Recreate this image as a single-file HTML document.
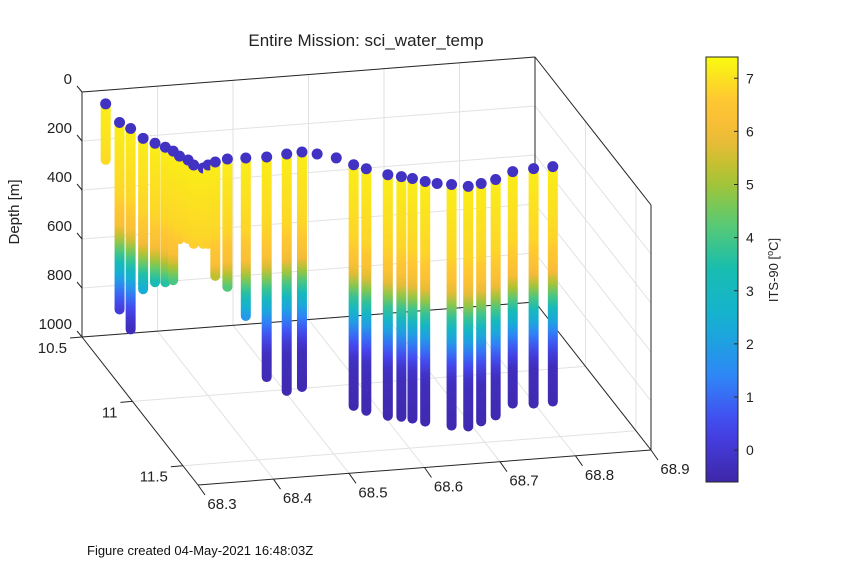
<!DOCTYPE html>
<html><head><meta charset="utf-8">
<style>
body{margin:0;background:#fff;}
svg{display:block;font-family:"Liberation Sans",sans-serif;}
</style></head>
<body>
<svg id="chart" width="851" height="567" viewBox="0 0 851 567" xmlns="http://www.w3.org/2000/svg">
<defs id="defs"></defs>
<rect width="851" height="567" fill="#fff"/>
<text x="366" y="46" font-size="17" text-anchor="middle" fill="#222">Entire Mission: sci_water_temp</text>
<text transform="translate(19,212) rotate(-90)" font-size="15" text-anchor="middle" fill="#222">Depth [m]</text>
<text x="87" y="555" font-size="13" fill="#111">Figure created 04-May-2021 16:48:03Z</text>
<g id="grid"></g>
<g id="box"></g>
<g id="ticks"></g>
<g id="marks"></g>
<g id="cbar"></g>
<text transform="translate(778,270) rotate(-90)" font-size="13" text-anchor="middle" fill="#222">ITS-90 [<tspan baseline-shift="super" font-size="9">o</tspan>C]</text>
</svg>
<script>
// ---- data ----
const lons=[68.318,68.317,68.325,68.331,68.341,68.350,68.356,68.359,68.366,68.368,68.377,68.386,68.398,68.416,68.440,68.467,68.495,68.516,68.533,68.553,68.568,68.580,68.601,68.616,68.628,68.641,68.654,68.671,68.690,68.709,68.731,68.760,68.789,68.815];
const lats=[10.600,10.745,10.795,10.874,10.917,10.952,10.985,11.025,11.058,11.098,11.125,11.106,11.088,11.073,11.076,11.081,11.070,11.064,11.087,11.127,11.187,11.223,11.279,11.301,11.321,11.350,11.371,11.387,11.410,11.396,11.375,11.327,11.317,11.313];
const maxDepths=[229,763,820,616,567,551,527,339,322,322,310,322,465,522,645,898,967,959,0,0,984,988,984,980,980,980,0,984,980,971,963,947,959,959];
const profDepth=[0,300,420,490,570,680,800,1000];
const profTemp=[7.2,6.8,6.2,4.8,3.2,1.2,-0.3,-0.5];
const surfaceTemp=-0.2;
const lonTicks=[68.3,68.4,68.5,68.6,68.7,68.8,68.9];
const latTicks=[10.5,11,11.5];
const depthTicks=[0,200,400,600,800,1000];
const cbTicks=[0,1,2,3,4,5,6,7];
// ---- axes ----
const LON0=68.3,LON1=68.9,LAT0=10.5,LAT1=11.65,D1=1000;
const O=[82,92],VX=[453,-35],VY=[116,148],VZ=[0,245];
function P(lon,lat,d){const u=(lon-LON0)/(LON1-LON0),v=(lat-LAT0)/(LAT1-LAT0),w=d/D1;
 return [O[0]+u*VX[0]+v*VY[0]+w*VZ[0],O[1]+u*VX[1]+v*VY[1]+w*VZ[1]];}
const CB={x:706,w:32,top:57,bot:482,min:-0.6,max:7.4};
function cbY(t){return CB.bot-(t-CB.min)/(CB.max-CB.min)*(CB.bot-CB.top);}
const parula=[[0,[62,38,168]],[0.13,[70,68,238]],[0.25,[46,135,247]],[0.38,[21,177,211]],[0.5,[24,189,176]],[0.62,[97,203,107]],[0.72,[178,194,45]],[0.82,[246,186,57]],[0.9,[254,200,50]],[1,[249,251,14]]];
function cmap(t){let f=(t-CB.min)/(CB.max-CB.min);f=Math.max(0,Math.min(1,f));
 for(let i=1;i<parula.length;i++){if(f<=parula[i][0]){const a=parula[i-1],b=parula[i],k=(f-a[0])/(b[0]-a[0]);
  return 'rgb('+a[1].map((c,j)=>Math.round(c+(b[1][j]-c)*k)).join(',')+')';}}
 return 'rgb(249,251,14)';}
function tempAt(d){for(let i=1;i<profDepth.length;i++){if(d<=profDepth[i]){const k=(d-profDepth[i-1])/(profDepth[i]-profDepth[i-1]);return profTemp[i-1]+k*(profTemp[i]-profTemp[i-1]);}}return profTemp[profTemp.length-1];}
const NS='http://www.w3.org/2000/svg';
function el(tag,attrs,parent){const e=document.createElementNS(NS,tag);for(const k in attrs)e.setAttribute(k,attrs[k]);parent.appendChild(e);return e;}
function line(a,b,col,w,parent){return el('line',{x1:a[0],y1:a[1],x2:b[0],y2:b[1],stroke:col,'stroke-width':w},parent);}
const grid=document.getElementById('grid'),box=document.getElementById('box'),ticks=document.getElementById('ticks'),marks=document.getElementById('marks'),cbar=document.getElementById('cbar'),defs=document.getElementById('defs');
const gc='#e2e2e2';
lonTicks.forEach(l=>{
 let g=line(P(l,LAT0,0),P(l,LAT0,D1),gc,1,grid);
 
 
 g=line(P(l,LAT0,D1),P(l,LAT1,D1),gc,1,grid);
 
 
});
depthTicks.forEach(d=>{
 let g=line(P(LON0,LAT0,d),P(LON1,LAT0,d),gc,1,grid);
 
 
 g=line(P(LON1,LAT0,d),P(LON1,LAT1,d),gc,1,grid);
 
 
});
latTicks.forEach(t=>{
 let g=line(P(LON0,t,D1),P(LON1,t,D1),gc,1,grid);
 
 
 g=line(P(LON1,t,0),P(LON1,t,D1),gc,1,grid);
 
 
});
const edges=[[[LON0,LAT0,0],[LON1,LAT0,0]],[[LON0,LAT0,0],[LON0,LAT0,D1]],[[LON1,LAT0,0],[LON1,LAT0,D1]],[[LON0,LAT0,D1],[LON1,LAT0,D1]],[[LON0,LAT1,D1],[LON1,LAT1,D1]],[[LON0,LAT0,D1],[LON0,LAT1,D1]],[[LON1,LAT0,D1],[LON1,LAT1,D1]],[[LON1,LAT0,0],[LON1,LAT1,0]],[[LON1,LAT1,0],[LON1,LAT1,D1]]];
edges.forEach(e=>{const g=line(P(...e[0]),P(...e[1]),'#262626',1,box);
 
 });
depthTicks.forEach(d=>{const p=P(LON0,LAT0,d);line(p,[p[0]-5,p[1]-6],'#262626',1,ticks);
 const t=el('text',{x:p[0]-10,y:p[1]-8,'font-size':15,'text-anchor':'end',fill:'#222'},ticks);t.textContent=d;
 
 });
latTicks.forEach(l=>{const p=P(LON0,l,D1);line(p,[p[0]-12,p[1]+1],'#262626',1,ticks);
 const t=el('text',{x:p[0]-15,y:p[1]+16,'font-size':15,'text-anchor':'end',fill:'#222'},ticks);t.textContent=l;
 
 });
lonTicks.forEach(l=>{const p=P(l,LAT1,D1);line(p,[p[0]+7,p[1]+10],'#262626',1,ticks);
 const t=el('text',{x:p[0]+24,y:p[1]+24,'font-size':15,'text-anchor':'middle',fill:'#222'},ticks);t.textContent=l.toFixed(1);
 
 });
lons.forEach((lon,i)=>{
 const top=P(lon,lats[i],0);
 if(maxDepths[i]>0){
  const bot=P(lon,lats[i],maxDepths[i]);
  const gid='g'+i;const lg=el('linearGradient',{id:gid,gradientUnits:'userSpaceOnUse',x1:0,y1:top[1],x2:0,y2:bot[1]},defs);
  for(let k=0;k<=20;k++){const d=maxDepths[i]*k/20;el('stop',{offset:k/20,'stop-color':cmap(tempAt(d))},lg);}
  const c=el('line',{x1:top[0],y1:top[1]+4,x2:bot[0],y2:bot[1],stroke:'url(#'+gid+')','stroke-width':10,'stroke-linecap':'round'},marks);
  
  
 }
 const dot=el('circle',{cx:top[0],cy:top[1],r:5.5,fill:cmap(surfaceTemp)},marks);
 
 
});
const cg=el('linearGradient',{id:'cbg',x1:0,y1:1,x2:0,y2:0},defs);
for(let k=0;k<=20;k++){el('stop',{offset:k/20,'stop-color':cmap(CB.min+(CB.max-CB.min)*k/20)},cg);}
const cr=el('rect',{x:CB.x,y:CB.top,width:CB.w,height:CB.bot-CB.top,fill:'url(#cbg)',stroke:'#262626','stroke-width':1},cbar);


cbTicks.forEach(t=>{const y=cbY(t);line([CB.x+CB.w-4,y],[CB.x+CB.w,y],'#262626',1,cbar);
 const tx=el('text',{x:CB.x+CB.w+8,y:y+5,'font-size':14,fill:'#222'},cbar);tx.textContent=t;
 
 });
</script>
</body></html>
